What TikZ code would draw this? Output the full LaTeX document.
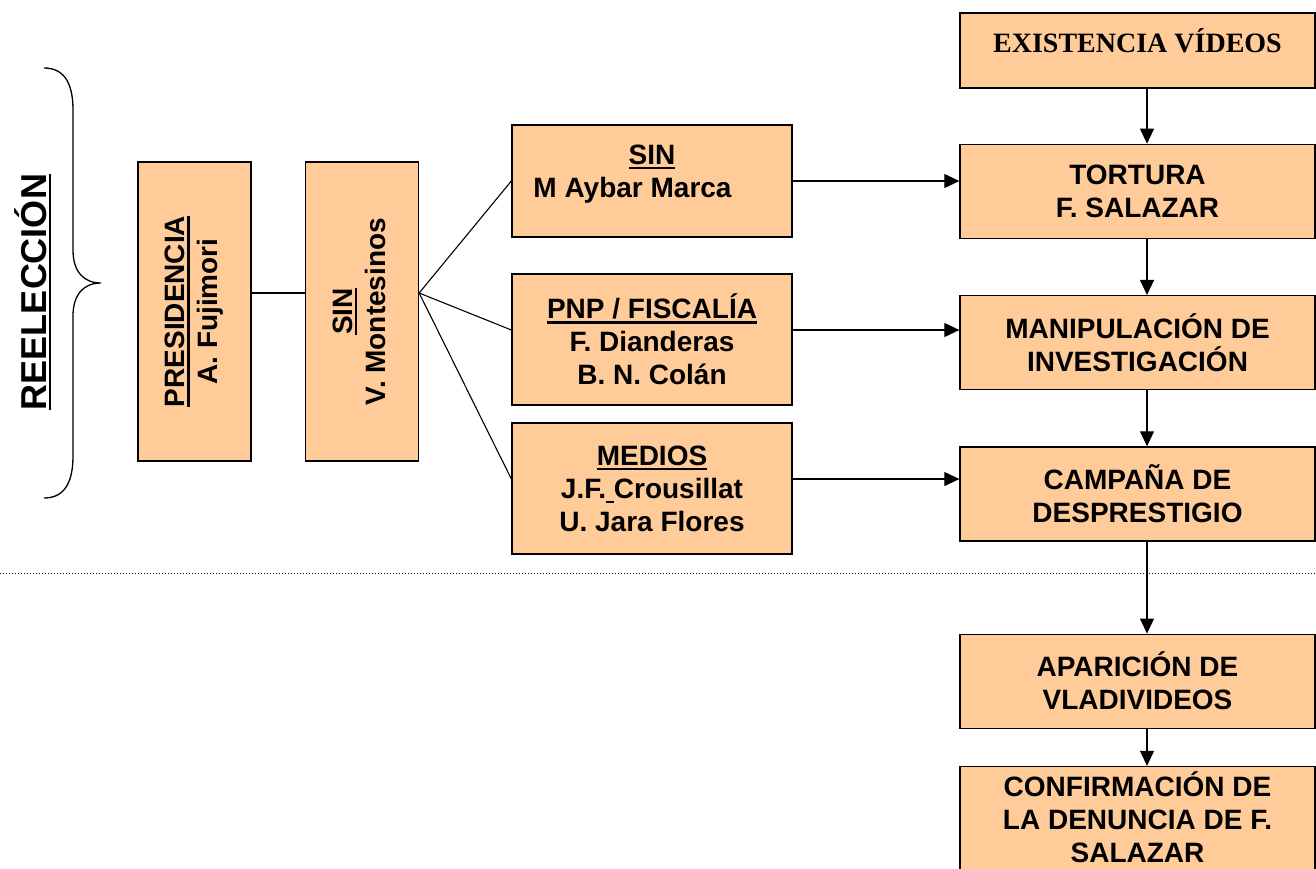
\documentclass[tikz,border=0pt]{standalone}
\usepackage{fontspec}
\setsansfont{Liberation Sans}
\newfontfamily\serifbold{Liberation Serif}
\usetikzlibrary{positioning,arrows.meta}
\definecolor{peach}{HTML}{FFCC99}
\newcommand\undl[1]{\setbox0=\hbox{#1}\rlap{\rule[-5pt]{\wd0}{2.5pt}}\box0}
\tikzset{%
box/.style={draw,line width=1.3pt,fill=peach,inner sep=0pt,align=center,font=\sffamily\bfseries\fontsize{28pt}{33pt}\selectfont},
tallbox/.style={box,minimum width=113pt,minimum height=299pt},
midbox/.style={box,minimum width=280pt},
stepbox/.style={box,minimum width=355pt,minimum height=94pt},
link/.style={line width=1.1pt},
flow/.style={line width=1.1pt,-{Triangle[length=15pt,width=14pt]}},
divider/.style={dotted,line width=1pt}
}

\begin{document}
\begin{tikzpicture}[x=1pt,y=-1pt]
\useasboundingbox (0,0) rectangle (1316,868);

% brace and title
\draw[line width=1.3pt] (44,68) .. controls (62,68) and (73,80) .. (73,110) -- (73,250)
  .. controls (73,272) and (84,283) .. (101,283)
  .. controls (84,283) and (73,294) .. (73,316) -- (73,456)
  .. controls (73,486) and (62,498) .. (44,498);
\node[rotate=90,inner sep=0pt,font=\sffamily\bfseries\fontsize{36pt}{40pt}\selectfont] (reel) at (33,292) {\undl{REELECCIÓN}};

% chain of command
\node[tallbox] (pres) at (194.5,311.5) {\rotatebox{90}{\begin{tabular}{@{}c@{}}\undl{PRESIDENCIA}\\A. Fujimori\end{tabular}}};
\node[tallbox] (sinv) at (362,311.5) {\rotatebox{90}{\begin{tabular}{@{}c@{}}\undl{SIN}\\V. Montesinos\end{tabular}}};

\node[midbox,minimum height=112pt,text depth=20pt] (aybar) at (652,181) {\undl{SIN}\\\hspace*{-39pt}M Aybar Marca};
\node[midbox,minimum height=131pt] (pnp) at (652,339.5) {\undl{PNP / FISCALÍA}\\F. Dianderas\\B. N. Colán};
\node[midbox,minimum height=131pt] (medios) at (652,488.5) {\undl{MEDIOS}\\J.F.\undl{\ }Crousillat\\U. Jara Flores};

% events
\node[stepbox,minimum height=75pt,text depth=20pt,font=\serifbold\bfseries\fontsize{28pt}{33pt}\selectfont] (videos) at (1137.5,50.5) {EXISTENCIA VÍDEOS};
\node[stepbox,below=55pt of videos] (tortura) {TORTURA\\F. SALAZAR};
\node[stepbox,below=56pt of tortura] (manip) {MANIPULACIÓN DE\\INVESTIGACIÓN};
\node[stepbox,below=56pt of manip] (campana) {CAMPAÑA DE\\DESPRESTIGIO};
\node[stepbox,below=92pt of campana] (vladi) {APARICIÓN DE\\VLADIVIDEOS};
\node[stepbox,minimum height=121pt,text depth=20pt,below=37pt of vladi] (denuncia) {CONFIRMACIÓN DE\\LA DENUNCIA DE F.\\SALAZAR};

% connectors
\coordinate (fan) at ([yshift=18.5pt]sinv.east);
\draw[link] ([yshift=18.5pt]pres.east) -- ([yshift=18.5pt]sinv.west);
\draw[link] (fan) -- (aybar.west);
\draw[link] (fan) -- ([yshift=9.5pt]pnp.west);
\draw[link] (fan) -- ([yshift=9.5pt]medios.west);

\draw[flow] (aybar.east) -- (aybar.east -| tortura.west);
\draw[flow] ([yshift=9.5pt]pnp.east) -- ([yshift=9.5pt]pnp.east -| manip.west);
\draw[flow] ([yshift=9.5pt]medios.east) -- ([yshift=9.5pt]medios.east -| campana.west);

\foreach \a/\b in {videos/tortura,tortura/manip,manip/campana,campana/vladi,vladi/denuncia}
  \draw[flow] ([xshift=9.5pt]\a.south) -- ([xshift=9.5pt]\b.north);

% divider
\coordinate (divL) at (0,573);
\coordinate (divR) at (1316,573);
\draw[divider] (divL) -- (divR);
\end{tikzpicture}
\end{document}
